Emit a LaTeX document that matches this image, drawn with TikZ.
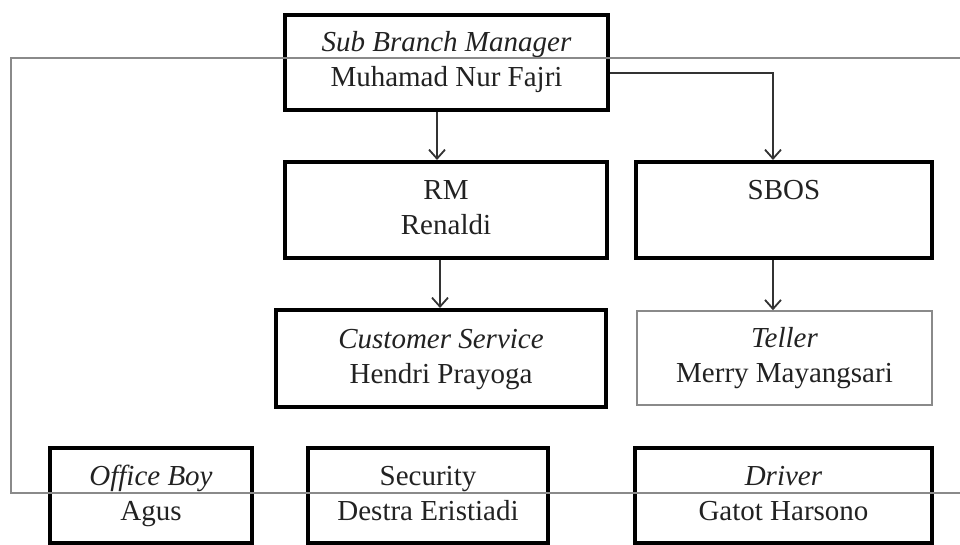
\documentclass[tikz,border=0pt]{standalone}
\usepackage{fontspec}
\setmainfont{Liberation Serif}
\usetikzlibrary{arrows.meta}
\definecolor{txt}{HTML}{222222}
\definecolor{frame}{HTML}{8A8A8A}
\definecolor{arrc}{HTML}{333333}
\newcommand{\twolines}[2]{\strut#1\\\strut#2}
\begin{document}
\begin{tikzpicture}[x=1pt,y=-1pt,
  every node/.style={font=\fontsize{29}{35}\selectfont, text=txt, align=center, inner sep=0pt},
  boxthick/.style={draw=black, line width=4pt, rectangle},
  boxthin/.style={draw=frame, line width=1.5pt, rectangle},
  arr/.style={draw=arrc, line width=1.8pt, -{Straight Barb[length=9pt,width=16pt,line width=1.8pt]}},
  bracket/.style={draw=frame, line width=2pt}]
\useasboundingbox (0,0) rectangle (960,545);
\node[boxthick, minimum width=323pt, minimum height=95pt] (sbm) at (446.5,62.5) {\twolines{\textit{Sub Branch Manager}}{Muhamad Nur Fajri}};
\node[boxthick, minimum width=322pt, minimum height=96pt] (rm) at (446,210) {\twolines{RM}{Renaldi}};
\node[boxthick, minimum width=296pt, minimum height=96pt] (sbos) at (784,210) {\twolines{SBOS}{}};
\node[boxthick, minimum width=330pt, minimum height=97pt] (cs) at (441,358.5) {\twolines{\textit{Customer Service}}{Hendri Prayoga}};
\node[boxthin, minimum width=295pt, minimum height=94pt] (teller) at (784.5,358) {\twolines{\textit{Teller}}{Merry Mayangsari}};
\node[boxthick, minimum width=202pt, minimum height=95pt] (ob) at (151,495.5) {\twolines{\textit{Office Boy}}{Agus}};
\node[boxthick, minimum width=240pt, minimum height=95pt] (sec) at (428,495.5) {\twolines{Security}{Destra Eristiadi}};
\node[boxthick, minimum width=297pt, minimum height=95pt] (drv) at (783.5,495.5) {\twolines{\textit{Driver}}{Gatot Harsono}};
\coordinate (a1) at (437,0);
\coordinate (a2) at (440,0);
\coordinate (a3) at (773,0);
\coordinate (e1) at (960,58);
\coordinate (c1) at (11,58);
\coordinate (c2) at (11,493);
\coordinate (e2) at (960,493);
\draw[arr] (sbm.south -| a1) -- (rm.north -| a1);
\draw[arr] ([yshift=-10.5pt]sbm.east) -| (sbos.north -| a3);
\draw[arr] (rm.south -| a2) -- (cs.north -| a2);
\draw[arr] (sbos.south -| a3) -- (teller.north -| a3);
\draw[bracket] (e1) -- (c1) -- (c2) -- (e2);
\end{tikzpicture}
\end{document}
